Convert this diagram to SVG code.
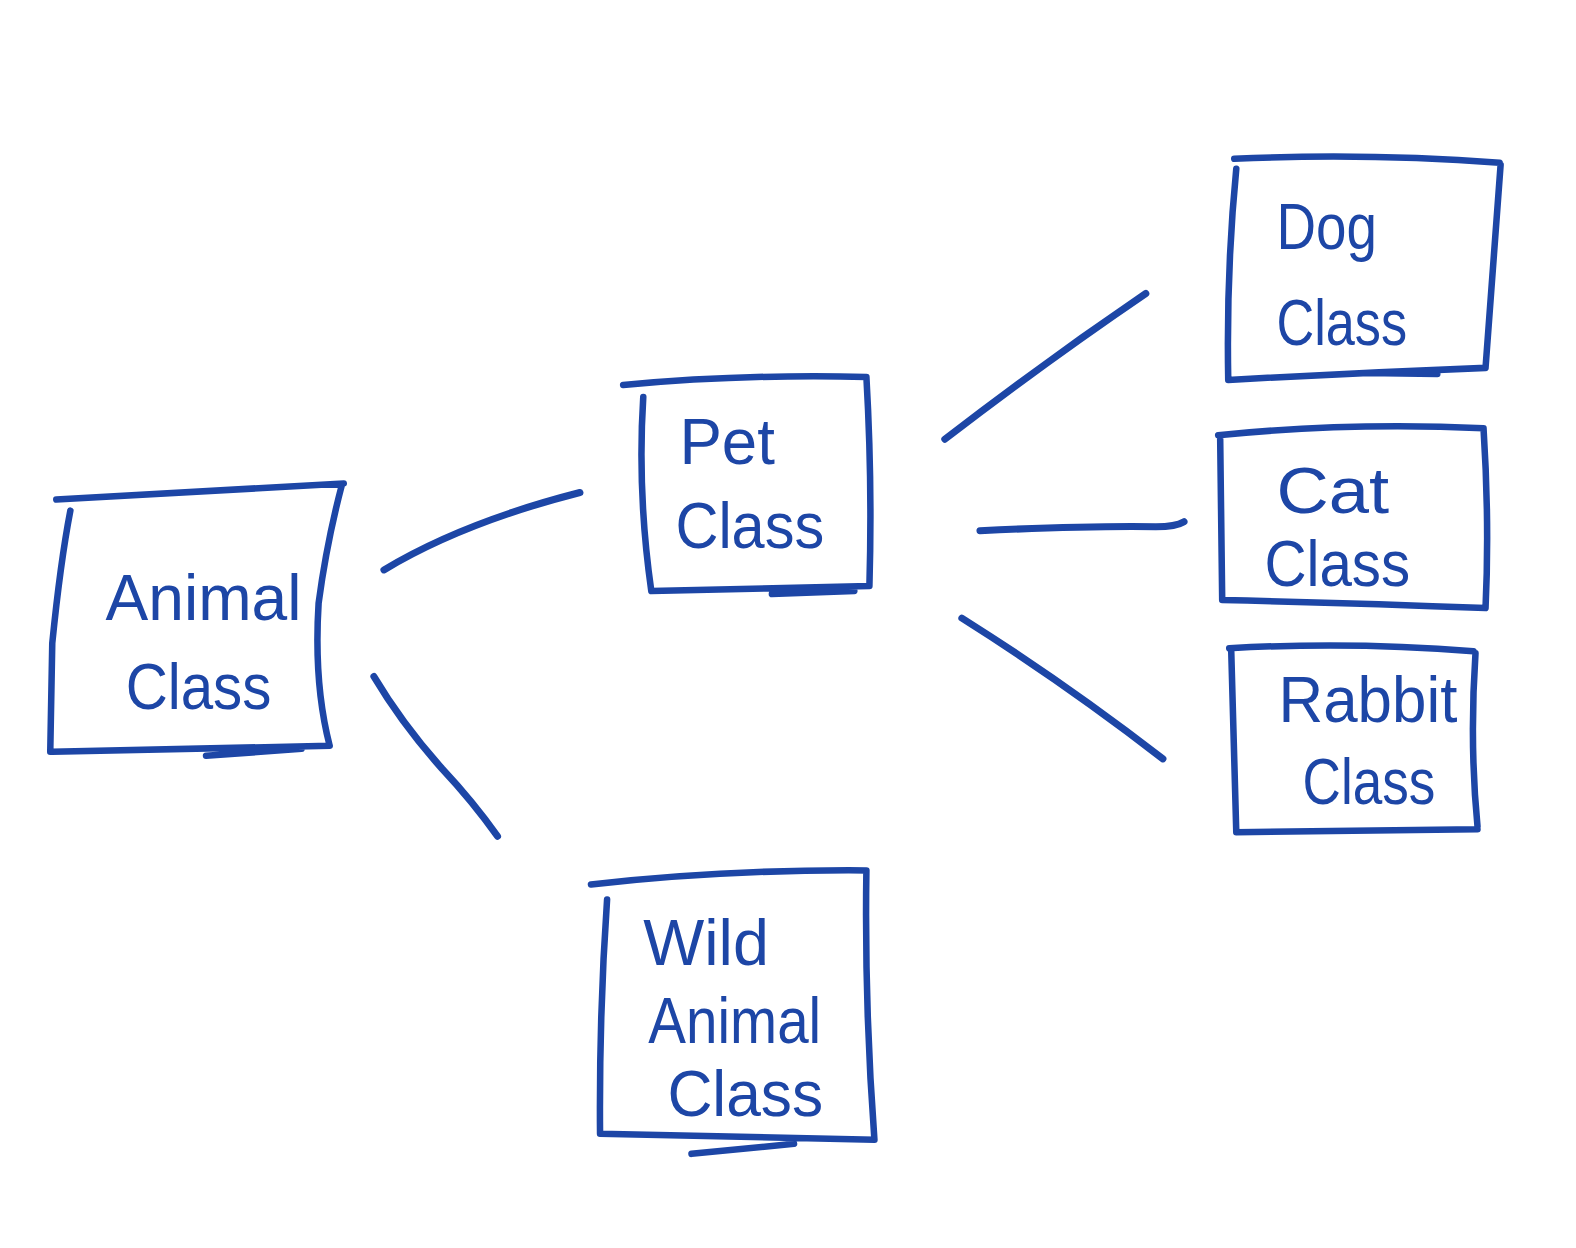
<svg xmlns="http://www.w3.org/2000/svg" width="1576" height="1248" viewBox="0 0 1576 1248">
<style>
.s{fill:none;stroke:#1d46a6;stroke-width:6.5;stroke-linecap:round;stroke-linejoin:round}
.c{fill:none;stroke:#1d46a6;stroke-width:7;stroke-linecap:round}
.t{fill:#1d46a6;font-family:"Liberation Sans","DejaVu Sans",sans-serif;font-size:64px}
</style>
<rect width="1576" height="1248" fill="#ffffff"/>
<g transform="scale(1.0051)">
<g id="animal">
<path class="s" d="M56,497 L342,481 M70,508 Q60,560 52,640 L50,748 M340,483 Q325,540 317,600 Q312,680 328,742 M52,748 L328,742 M205,752 L300,745"/>
<text class="t" x="105" y="617" textLength="195" lengthAdjust="spacingAndGlyphs" font-size="90">Animal</text>
<text class="t" x="125" y="705" textLength="145" lengthAdjust="spacingAndGlyphs" font-size="68">Class</text>
</g>
<g id="pet">
<path class="s" d="M620,383 Q740,372 862,375 M640,395 Q634,490 648,588 M862,375 Q868,480 865,583 M648,588 L865,583 M768,591 L850,588"/>
<text class="t" x="676" y="462" textLength="95" lengthAdjust="spacingAndGlyphs" font-size="78">Pet</text>
<text class="t" x="672" y="545" textLength="148" lengthAdjust="spacingAndGlyphs" font-size="62">Class</text>
</g>
<g id="wild">
<path class="s" d="M588,880 Q720,865 862,866 M604,895 Q596,1010 597,1128 M862,866 Q860,1000 870,1134 M597,1128 L870,1134 M688,1148 L790,1138"/>
<text class="t" x="640" y="960" textLength="125" lengthAdjust="spacingAndGlyphs" font-size="76">Wild</text>
<text class="t" x="645" y="1038" textLength="172" lengthAdjust="spacingAndGlyphs" font-size="68">Animal</text>
<text class="t" x="664" y="1110" textLength="155" lengthAdjust="spacingAndGlyphs" font-size="60">Class</text>
</g>
<g id="dog">
<path class="s" d="M1228,158 Q1360,152 1492,162 M1230,168 Q1220,270 1222,378 M1493,164 Q1485,270 1478,366 M1222,378 Q1350,371 1478,366 M1360,371 L1430,372"/>
<text class="t" x="1270" y="248" textLength="100" lengthAdjust="spacingAndGlyphs" font-size="82">Dog</text>
<text class="t" x="1270" y="343" textLength="130" lengthAdjust="spacingAndGlyphs" font-size="60">Class</text>
</g>
<g id="cat">
<path class="s" d="M1212,433 Q1340,420 1476,426 M1214,437 L1216,597 M1476,426 Q1482,520 1478,605 M1216,597 Q1350,600 1478,605"/>
<text class="t" x="1270" y="510" textLength="112" lengthAdjust="spacingAndGlyphs" font-size="60">Cat</text>
<text class="t" x="1258" y="583" textLength="145" lengthAdjust="spacingAndGlyphs" font-size="60">Class</text>
</g>
<g id="rabbit">
<path class="s" d="M1223,645 Q1345,638 1466,648 M1225,648 L1230,828 M1468,650 Q1462,740 1470,822 M1230,828 L1470,825"/>
<text class="t" x="1272" y="718" textLength="178" lengthAdjust="spacingAndGlyphs" font-size="66">Rabbit</text>
<text class="t" x="1296" y="800" textLength="132" lengthAdjust="spacingAndGlyphs" font-size="58">Class</text>
</g>
<g id="connectors">
<path class="c" d="M382,567 Q460,520 577,490"/>
<path class="c" d="M372,673 Q400,720 440,765 Q470,797 495,832"/>
<path class="c" d="M940,437 Q1040,360 1140,292"/>
<path class="c" d="M975,528 Q1080,523 1150,524 Q1170,524 1178,519"/>
<path class="c" d="M957,615 Q1060,680 1157,755"/>
</g>
</g>
</svg>
